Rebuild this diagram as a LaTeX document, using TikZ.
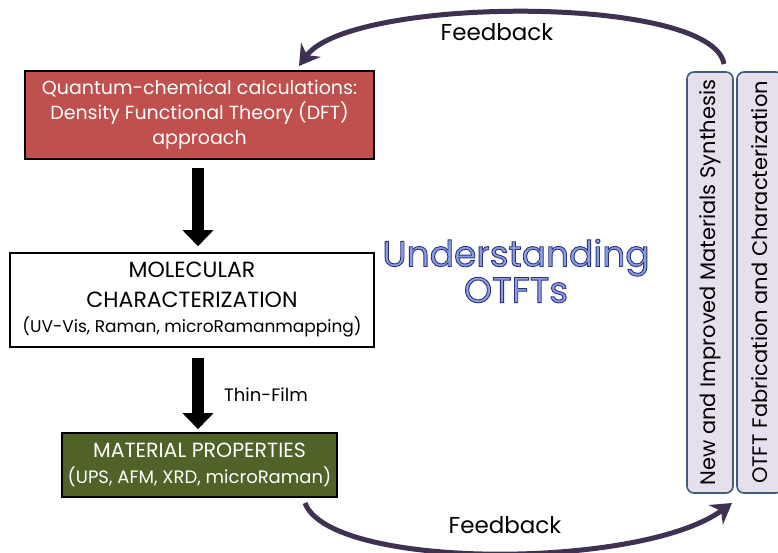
\documentclass[tikz,border=0pt]{standalone}
\usepackage{fontspec}
\setmainfont{Poppins}
\usetikzlibrary{arrows.meta, positioning}

\definecolor{dftred}{HTML}{C0504D}
\definecolor{matgreen}{HTML}{4F6228}
\definecolor{loopviolet}{HTML}{3F3151}
\definecolor{tabfill}{HTML}{E5E0EC}
\definecolor{tabline}{HTML}{3E5C7E}
\definecolor{otftfill}{HTML}{8A9EE6}

% outlined title face: light fill, dark navy stroke
\font\otftface="Poppins:embolden=2.5" at 36pt
\newcommand{\otftoutline}{\special{pdf:code 0.18 0.2 0.48 RG}}

\begin{document}
\begin{tikzpicture}[
            x=1pt, y=-1pt,
            stage/.style={rectangle, draw=black, line width=1.6pt, align=center, inner sep=0pt},
            tab/.style={rectangle, rounded corners=7pt, draw=tabline, fill=tabfill, line width=1.6pt,
                minimum width=421pt, minimum height=46pt, rotate=90, inner sep=0pt,
                font=\fontsize{21}{24}\selectfont},
            down/.style={line width=12pt, -{Triangle[width=30pt, length=16pt]}},
            feedback/.style={loopviolet, line width=5pt, -{Stealth[width=24pt, length=20pt]}},
            lbl/.style={inner sep=0pt, font=\fontsize{23}{26}\selectfont}
        ]
        \useasboundingbox (0,0) rectangle (778,553);

        % Method chain
        \node[stage, fill=dftred, text=white, minimum width=349pt, minimum height=88pt,
            font=\fontsize{19}{25}\selectfont] (dft) at (199.5,115)
            {Quantum-chemical calculations:\\Density Functional Theory (DFT)\\approach};
        \node[stage, fill=white, minimum width=364pt, minimum height=94pt,
            font=\fontsize{22}{30}\selectfont] (mol) at (192,300)
            {MOLECULAR\\CHARACTERIZATION\\[-5pt]{\fontsize{17}{18}\selectfont (UV-Vis, Raman, microRamanmapping)}};
        \node[stage, fill=matgreen, text=white, minimum width=275pt, minimum height=64pt,
            font=\fontsize{20.5}{26}\selectfont] (mat) at (199.5,465)
            {MATERIAL PROPERTIES\\{\fontsize{18}{20}\selectfont (UPS, AFM, XRD, microRaman)}};

        % Arrows between stages
        \draw[down, shorten <=8pt, shorten >=6pt] ([xshift=-1.5pt]dft.south) -- ([xshift=-1.5pt]dft.south |- mol.north);
        \draw[down, shorten <=10pt, shorten >=3pt] ([xshift=6pt]mol.south) -- ([xshift=6pt]mol.south |- mat.north);
        \node[lbl, font=\fontsize{18}{20}\selectfont] (thin) at (266,395) {Thin-Film};

        % Centre title
        \node[align=center, text=otftfill, font=\otftface] (otft) at (516,271)
            {\otftoutline Understanding\\\otftoutline OTFTs};

        % Side tabs
        \node[tab] (synth) at (710,282.5) {New and Improved Materials Synthesis};
        \node[tab] (fab) at (760,282.5) {OTFT Fabrication and Characterization};

        % Feedback loops
        \coordinate (fbtopstart) at (724,64);
        \coordinate (fbtopend) at (299,66);
        \coordinate (fbbotstart) at (305,503);
        \coordinate (fbbotend) at (732,503);
        \draw[feedback] (fbtopstart) .. controls (712,-6) and (350,-4) .. (fbtopend);
        \draw[feedback] (fbbotstart) .. controls (330,570) and (640,570) .. (fbbotend);
        \node[lbl] (fbtop) at (497,32) {Feedback};
        \node[lbl] (fbbot) at (505,525) {Feedback};

    \end{tikzpicture}
\end{document}
